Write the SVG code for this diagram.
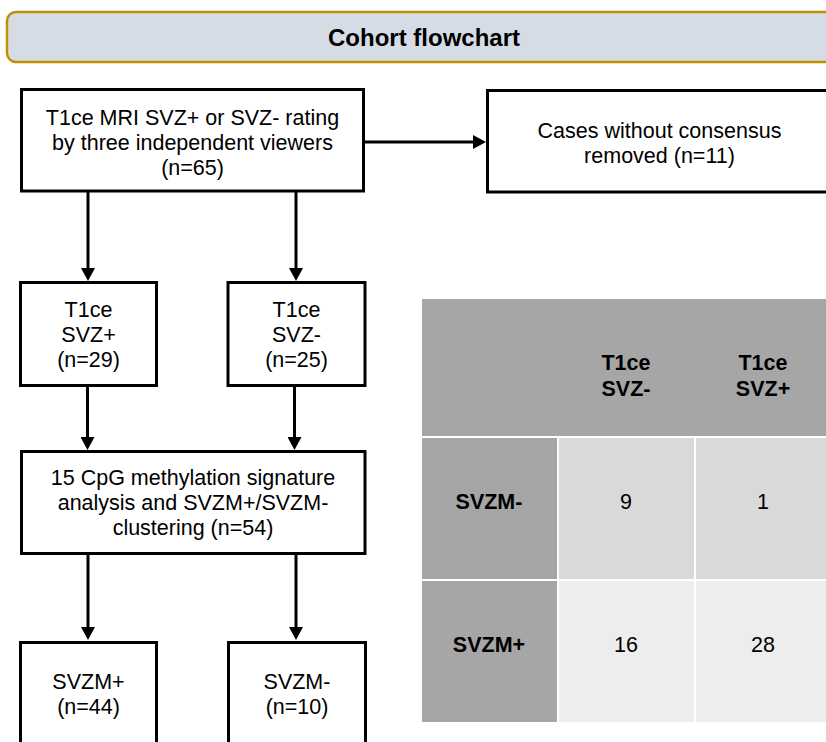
<svg xmlns="http://www.w3.org/2000/svg" width="826" height="742" viewBox="0 0 826 742">
<style>
.box{fill:#ffffff;stroke:#000000;stroke-width:3}
.t{font-family:"Liberation Sans",Arial,sans-serif;font-size:21.5px;fill:#000000;text-anchor:middle}
.b{font-weight:bold}
.conn line{stroke:#000000;stroke-width:3}
.hdr{fill:#a6a6a6}
.r1{fill:#d9d9d9}
.r2{fill:#ededed}
</style>
<defs>
<marker id="ah" markerUnits="userSpaceOnUse" viewBox="0 0 13 14" markerWidth="13" markerHeight="14" refX="0" refY="7" orient="auto">
<path d="M0,0 L13,7 L0,14 z" fill="#000000"/>
</marker>
</defs>
<rect width="826" height="742" fill="#ffffff"/>
<g id="title">
<rect x="7" y="12" width="840" height="50" rx="9" ry="9" fill="#d6dce5" stroke="#c09000" stroke-width="2.5"/>
<text class="t b" x="424" y="46" style="font-size:24px">Cohort flowchart</text>
</g>
<g id="rating">
<rect class="box" x="21.5" y="89.5" width="342" height="101.5"/>
<text class="t" x="192.5" y="125">T1ce MRI SVZ+ or SVZ- rating</text>
<text class="t" x="192.5" y="150">by three independent viewers</text>
<text class="t" x="192.5" y="175">(n=65)</text>
</g>
<g id="removed">
<rect class="box" x="487.5" y="90.5" width="400" height="101.5"/>
<text class="t" x="659.5" y="138">Cases without consensus</text>
<text class="t" x="659.5" y="163">removed (n=11)</text>
</g>
<g id="svzpos">
<rect class="box" x="20.5" y="282.5" width="136" height="103"/>
<text class="t" x="88.5" y="317">T1ce</text>
<text class="t" x="88.5" y="342">SVZ+</text>
<text class="t" x="88.5" y="367">(n=29)</text>
</g>
<g id="svzneg">
<rect class="box" x="228" y="282.5" width="137" height="103"/>
<text class="t" x="296.5" y="317">T1ce</text>
<text class="t" x="296.5" y="342">SVZ-</text>
<text class="t" x="296.5" y="367">(n=25)</text>
</g>
<g id="cpg">
<rect class="box" x="21.5" y="451.5" width="343.5" height="102"/>
<text class="t" x="193" y="485">15 CpG methylation signature</text>
<text class="t" x="193" y="510">analysis and SVZM+/SVZM-</text>
<text class="t" x="193" y="535">clustering (n=54)</text>
</g>
<g id="svzmpos">
<rect class="box" x="20.5" y="642.5" width="136" height="120"/>
<text class="t" x="88.5" y="689">SVZM+</text>
<text class="t" x="88.5" y="714">(n=44)</text>
</g>
<g id="svzmneg">
<rect class="box" x="228.5" y="642.5" width="137" height="120"/>
<text class="t" x="297" y="689">SVZM-</text>
<text class="t" x="297" y="714">(n=10)</text>
</g>
<g id="connectors" class="conn">
<line x1="365" y1="142" x2="473" y2="142" marker-end="url(#ah)"/>
<line x1="88" y1="191" x2="88" y2="268" marker-end="url(#ah)"/>
<line x1="296" y1="191" x2="296" y2="268" marker-end="url(#ah)"/>
<line x1="87.5" y1="386" x2="87.5" y2="437" marker-end="url(#ah)"/>
<line x1="294.5" y1="386" x2="294.5" y2="437" marker-end="url(#ah)"/>
<line x1="88" y1="554" x2="88" y2="627" marker-end="url(#ah)"/>
<line x1="296" y1="554" x2="296" y2="627" marker-end="url(#ah)"/>
</g>
<g id="table">
<rect class="hdr" x="422" y="299" width="404" height="137"/>
<rect class="hdr" x="422" y="438" width="135" height="141"/>
<rect class="r1" x="559" y="438" width="135" height="141"/>
<rect class="r1" x="696" y="438" width="130" height="141"/>
<rect class="hdr" x="422" y="581" width="135" height="141"/>
<rect class="r2" x="559" y="581" width="135" height="141"/>
<rect class="r2" x="696" y="581" width="130" height="141"/>
<text class="t b" x="626" y="370">T1ce</text>
<text class="t b" x="626" y="396">SVZ-</text>
<text class="t b" x="763" y="370">T1ce</text>
<text class="t b" x="763" y="396">SVZ+</text>
<text class="t b" x="489" y="509">SVZM-</text>
<text class="t" x="626" y="509">9</text>
<text class="t" x="763" y="509">1</text>
<text class="t b" x="489" y="652">SVZM+</text>
<text class="t" x="626" y="652">16</text>
<text class="t" x="763" y="652">28</text>
</g>
</svg>
